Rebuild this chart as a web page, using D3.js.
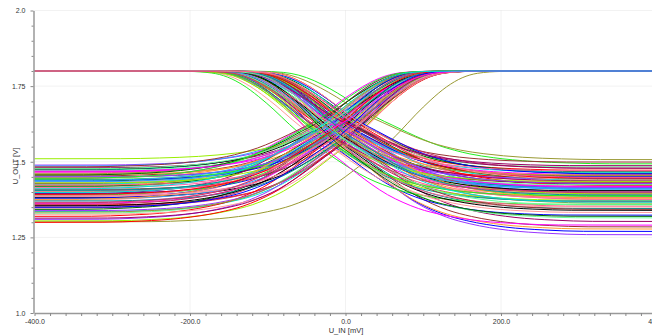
<!DOCTYPE html>
<html lang="en">
<head>
    <meta charset="UTF-8">
    <title>U_OUT vs U_IN</title>
    <script src="https://d3js.org/d3.v7.min.js"></script>
    <style>
        body { margin: 0; background: #fff; }
        text { font-family: "Liberation Sans", Arial, sans-serif; fill: #333; }
    </style>
</head>
<body>
<svg id="chart" width="652" height="335"></svg>
<script>
// output high level (same for every run)
const highLevel = 1.8;

// shared transition shape: offset from the midpoint [mV] -> fraction of swing
const profileU    = [-900, -300, -250, -200, -150, -120, -100, -80, -60, -40, -20, 0, 20, 40, 60, 80, 100, 120, 150, 200, 900];
const profileFrac = [0, 0.004, 0.012, 0.03, 0.07, 0.11, 0.15, 0.20, 0.265, 0.34, 0.42, 0.5, 0.60, 0.71, 0.81, 0.895, 0.955, 0.985, 0.997, 1, 1];

// falling outputs: settled low level at +400 mV [V] and midpoint [mV]
const fallLow = [1.471, 1.492, 1.268, 1.402, 1.438, 1.387, 1.452, 1.283, 1.419, 1.376, 1.257, 1.428, 1.344, 1.461,
                 1.395, 1.411, 1.301, 1.482, 1.367, 1.433, 1.446, 1.384, 1.322, 1.457, 1.405, 1.372, 1.425, 1.498,
                 1.391, 1.276, 1.443, 1.362, 1.415, 1.466, 1.349, 1.398, 1.436, 1.313, 1.477, 1.381, 1.421, 1.358,
                 1.449, 1.289, 1.464, 1.393, 1.338, 1.431, 1.374, 1.455, 1.414, 1.506, 1.369, 1.441, 1.331, 1.408,
                 1.478, 1.423, 1.396, 1.352, 1.445, 1.386, 1.459, 1.417, 1.365, 1.434, 1.403, 1.341, 1.469, 1.379,
                 1.427, 1.454, 1.389, 1.318, 1.439, 1.410, 1.486, 1.356, 1.399, 1.447];
const fallShift = [-12, 40, 6, -25, 8, -40, -5, 12, -18, 2, 10, -30, -8, 15,
                   -48, -2, 18, -22, -14, 5, -35, 10, -20, -10, 22, -28, 0, -16,
                   -6, 3, -42, 12, -24, 4, -33, 16, -11, -4, 9, -19, 26, -52,
                   -1, -26, -15, 7, -9, -38, 14, -21, 1, 28, -31, 11, -13, -7,
                   -3, -27, 13, -17, 6, -36, 20, -9, 4, -44, -14, 8, -23, 17,
                   -6, -32, 0, -10, 24, -20, -12, -3, -29, 13];

// rising outputs: settled low level at -400 mV [V] and midpoint [mV]
const riseLow = [1.452, 1.387, 1.421, 1.488, 1.300, 1.472, 1.436, 1.371, 1.485, 1.405, 1.328, 1.346, 1.462, 1.356,
                 1.416, 1.394, 1.443, 1.334, 1.509, 1.381, 1.427, 1.365, 1.457, 1.308, 1.399, 1.448, 1.341, 1.431,
                 1.376, 1.479, 1.412, 1.352, 1.467, 1.318, 1.389, 1.439, 1.361, 1.424, 1.303, 1.475, 1.408, 1.384,
                 1.446, 1.337, 1.459, 1.369, 1.418, 1.325, 1.433, 1.392, 1.470, 1.358, 1.402, 1.298, 1.441, 1.378,
                 1.465, 1.397, 1.429, 1.353, 1.482, 1.414, 1.374, 1.449, 1.332, 1.404, 1.455, 1.385, 1.437, 1.312,
                 1.476, 1.363, 1.422, 1.391, 1.444, 1.348, 1.468, 1.409];
const riseShift = [-15, 5, -30, -8, 50, -20, -3, -40, -18, 2, -12, -22, -26, 8,
                   -35, -6, -48, -1, 11, 6, -11, -29, 3, -16, -24, 9, -36, -4,
                   -14, -2, -44, 4, -9, -27, -17, 7, -21, -33, 0, -13, 10, -38,
                   -19, -5, -31, 1, -23, 5, -10, -46, -7, -25, -1, -12, 2, -34,
                   -11, -28, 4, -19, -33, -2, -42, 7, -8, -15, -37, 3, -24, -6,
                   -16, -30, 9, -21, -45, -13, 0, -39];

// axis ticks
const xTickValues = [-400, -200, 0, 200, 400];
const xTickLabels = ["-400.0", "-200.0", "0.0", "200.0", "400.0"];
const yTickValues = [1.0, 1.25, 1.5, 1.75, 2.0];
const yTickLabels = ["1.0", "1.25", "1.5", "1.75", "2.0"];

const palette = ["#ff0000", "#22ee22", "#0000ff", "#ff00ff", "#00dddd", "#99ee00", "#000000", "#993333",
                 "#ff66aa", "#ff9933", "#9933ff", "#999933", "#009999", "#006600", "#ff9999", "#3399ff",
                 "#990066", "#66ff99", "#cc3366", "#ff5c8a"];

const svg = d3.select("#chart");
const W = 652, H = 335;
const plotLeft = 34.5, plotTop = 10.5, plotBottom = 313;

const x = d3.scaleLinear().domain([-400, 400]).range([plotLeft, 656.5]);
const y = d3.scaleLinear().domain([1.0, 2.0]).range([plotBottom, plotTop]);

svg.append("rect").attr("width", W).attr("height", H).attr("fill", "#fff");

// grid
const grid = svg.append("g").attr("stroke", "#e4e4e4").attr("stroke-dasharray", "1,1");
grid.selectAll("line.v").data(xTickValues.slice(1)).enter().append("line")
    .attr("x1", d => x(d)).attr("x2", d => x(d)).attr("y1", plotTop).attr("y2", plotBottom);
grid.selectAll("line.h").data(yTickValues.slice(1)).enter().append("line")
    .attr("x1", plotLeft).attr("x2", W).attr("y1", d => y(d)).attr("y2", d => y(d));

svg.append("clipPath").attr("id", "clip").append("rect")
    .attr("x", plotLeft).attr("y", plotTop).attr("width", W - plotLeft).attr("height", plotBottom - plotTop);

const line = d3.line().x(d => x(d[0])).y(d => y(d[1])).curve(d3.curveMonotoneX);

function fallCurve(i) {
    const lo = fallLow[i], s = fallShift[i];
    return profileU.map((u, k) => [s - u, lo + (highLevel - lo) * profileFrac[k]]).reverse();
}
function riseCurve(i) {
    const lo = riseLow[i], s = riseShift[i];
    return profileU.map((u, k) => [s + u, lo + (highLevel - lo) * profileFrac[k]]);
}

const curves = [];
for (let i = 0; i < Math.max(fallLow.length, riseLow.length); i++) {
    if (i < fallLow.length) curves.push({pts: fallCurve(i), c: palette[i % palette.length]});
    if (i < riseLow.length) curves.push({pts: riseCurve(i), c: palette[(i + 7) % palette.length]});
}

svg.append("g").attr("clip-path", "url(#clip)")
    .selectAll("path").data(curves).enter().append("path")
    .attr("d", d => line(d.pts))
    .attr("fill", "none")
    .attr("stroke", d => d.c)
    .attr("stroke-width", 1);

// x axis
const xAxis = d3.axisBottom(x)
    .tickValues(d3.range(-400, 401, 20))
    .tickSize(3).tickSizeOuter(0).tickPadding(3)
    .tickFormat(d => { const k = xTickValues.indexOf(d); return k >= 0 ? xTickLabels[k] : ""; });
const gx = svg.append("g").attr("transform", `translate(0,${plotBottom})`).call(xAxis);

// y axis
const yAxis = d3.axisLeft(y)
    .tickValues(d3.range(0, 21).map(k => 1 + k * 0.05))
    .tickSizeOuter(0).tickPadding(2)
    .tickFormat(d => { const k = yTickValues.findIndex(v => Math.abs(v - d) < 1e-6); return k >= 0 ? yTickLabels[k] : ""; });
const gy = svg.append("g").attr("transform", `translate(${plotLeft - 1},0)`).call(yAxis);
gy.selectAll(".tick line").attr("x2", d => yTickValues.some(v => Math.abs(v - d) < 1e-6) ? -3 : -2);

[gx, gy].forEach(g => {
    g.select(".domain").attr("stroke", "#999").attr("stroke-width", 1.5);
    g.selectAll(".tick line").attr("stroke", "#888");
    g.selectAll(".tick text").attr("font-size", 7).style("fill", "#333");
});

svg.append("text").attr("x", 346).attr("y", 333).attr("text-anchor", "middle")
    .attr("font-size", 7.5).text("U_IN [mV]");
svg.append("text").attr("transform", "translate(17.5,166) rotate(-90)").attr("text-anchor", "middle")
    .attr("font-size", 7.5).text("U_OUT [V]");
</script>
</body>
</html>
